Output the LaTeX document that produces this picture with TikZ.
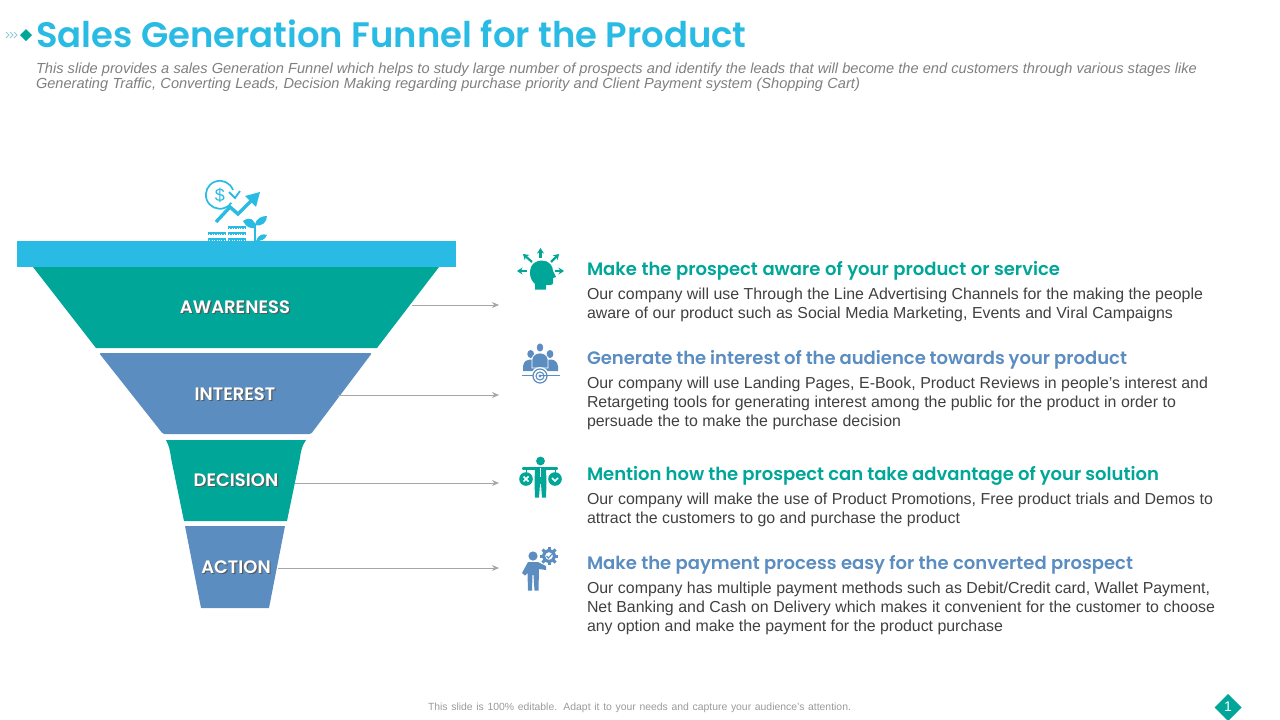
\documentclass[tikz,border=0pt]{standalone}
\usepackage{fontspec}
\setmainfont{Liberation Sans}
\newfontfamily\gothic{Poppins}[UprightFont=* SemiBold]
\usetikzlibrary{arrows.meta}
\definecolor{cyanT}{HTML}{29BBE3}
\definecolor{tealT}{HTML}{00A698}
\definecolor{blueT}{HTML}{5B8DC1}
\definecolor{bodyT}{HTML}{404040}
\definecolor{introT}{HTML}{7F7F7F}
\definecolor{footT}{HTML}{9A9A9A}
\definecolor{lineT}{HTML}{A6A6A6}
\newcommand{\jl}[2]{\hbox to #1pt{#2}}
\newcommand{\shadowed}[1]{\rlap{\kern1.2pt\raisebox{-1.2pt}{\color{black!65}#1}}#1}
\tikzset{
  body/.style={anchor=north west,inner sep=0pt,outer sep=0pt,align=left,text=bodyT,font=\fontsize{15.9}{19}\selectfont},
  intro/.style={anchor=north west,inner sep=0pt,outer sep=0pt,align=left,text=introT,font=\fontsize{14.6}{15}\selectfont\itshape},
  heading/.style={anchor=west,inner sep=0pt,outer sep=0pt,font=\gothic\fontsize{18}{20}\selectfont},
  stage/.style={inner sep=0pt,outer sep=0pt,text=white,font=\gothic\fontsize{18}{20}\selectfont},
  link/.style={draw=lineT,line width=0.8pt,-{Stealth[length=7pt,width=6pt]}},
  burst/.style={line width=2.2pt,-{Stealth[length=5.5pt,width=7pt]}},
}
\begin{document}
\begin{tikzpicture}[x=1pt,y=-1pt]
\useasboundingbox (0,0) rectangle (1280,720);
% title area
\node[anchor=west,inner sep=0pt,text=cyanT,font=\gothic\fontsize{35.4}{38}\selectfont] (title) at (36,34) {Sales Generation Funnel for the Product};
\node[intro] (introtext) at (36,63) {\jl{1161}{This slide provides a sales Generation Funnel which helps to study large number of prospects and identify the leads that will become the end customers through various stages like}\\\jl{824}{Generating Traffic, Converting Leads, Decision Making regarding purchase priority and Client Payment system (Shopping Cart)}};
\draw[cyanT!60!gray!60,line width=0.8pt] (6,32)--(9,35)--(6,38) (10,32)--(13,35)--(10,38) (14,32)--(17,35)--(14,38);
\fill[tealT] (26,29)--(32,35)--(26,41)--(20,35)--cycle;
% funnel
\fill[cyanT] (17,241) rectangle (456,267);
\fill[tealT] (33,267)--(439,267)--(377,348)--(96,348)--cycle;
\fill[blueT,rounded corners=1.5pt] (99,353)--(372,353)--(311,434)--(163,434)--cycle;
\fill[tealT] (166,440)--(306,440) .. controls (302,446) and (301,450) .. (300,458) -- (287,521)--(184,521)--(171,458) .. controls (170,450) and (169,446) .. (166,440)--cycle;
\fill[blueT] (185,526)--(285,526)--(269,608)--(201,608)--cycle;
\node[stage] (awareness) at (235,308) {\shadowed{AWARENESS}};
\node[stage] (interest) at (235,395) {\shadowed{INTEREST}};
\node[stage] (decision) at (236,481) {\shadowed{DECISION}};
\node[stage] (action) at (236,568) {\shadowed{ACTION}};
% connectors
\coordinate (a1) at (412,305); \coordinate (a2) at (499,305);
\coordinate (b1) at (338,395); \coordinate (b2) at (499,395);
\coordinate (c1) at (295,483); \coordinate (c2) at (499,483);
\coordinate (d1) at (278,568); \coordinate (d2) at (499,568);
\draw[link] (a1)--(a2);
\draw[link] (b1)--(b2);
\draw[link] (c1)--(c2);
\draw[link] (d1)--(d2);
% top icon
\begin{scope}[cyanT]
\draw[line width=1.7pt] (233,190) arc (-20:-325:14);
\draw[line width=1.8pt] (229,192)--(235,198)--(240,191);
\node[inner sep=0pt,text=cyanT,font=\fontsize{18}{18}\selectfont] (dollar) at (220,195.5) {\$};
\draw[line width=3.4pt] (216,222)--(230,207)--(238,214)--(253,199);
\fill (260,192)--(256,207)--(245,196)--cycle;
\fill (243,221) .. controls (250,216) and (255,219) .. (256,228) .. controls (250,229) and (246,227) .. (243,221)--cycle;
\fill (255,225) .. controls (256,218) and (262,216) .. (267,216) .. controls (267,222) and (262,227) .. (255,225)--cycle;
\fill (256,241) .. controls (258,235) and (263,233) .. (267,235) .. controls (265,240) and (261,241) .. (256,241)--cycle;
\draw[line width=2.4pt] (255,224)--(255,241);
\foreach \yy in {232,238} {
  \fill (208,\yy) rectangle (226,\yy+1.6);
  \draw[line width=1.6pt,dash pattern=on 1.4pt off 1pt] (208,\yy+2.2)--(226,\yy+2.2);
}
\foreach \yy in {226,232,238} {
  \fill (228,\yy) rectangle (246,\yy+1.6);
  \draw[line width=1.6pt,dash pattern=on 1.4pt off 1pt] (228,\yy+2.2)--(246,\yy+2.2);
}
\end{scope}
% icon 1: head with arrows
\begin{scope}[tealT]
\fill (530,273) .. controls (530,263) and (537,260.5) .. (542,260.5) .. controls (549,260.5) and (553,266) .. (553,271) -- (556,277) -- (553,278) -- (553,283) .. controls (553,285) and (550,285) .. (546,285) -- (546,289.5) -- (535,289.5) -- (535,284) .. controls (532,281) and (530,278) .. (530,273) -- cycle;
\draw[burst] (527,271)--(517,271);
\draw[burst] (532,262)--(523,254);
\draw[burst] (540.5,258)--(540.5,248);
\draw[burst] (551,262)--(559,254);
\draw[burst] (555,271)--(564,271);
\end{scope}
% icon 2: people and target
\begin{scope}[blueT]
\fill (530.7,354) ellipse (3.4 and 4) ; \fill (550,354) ellipse (3.4 and 4);
\fill (523,371) -- (523,366) .. controls (524,361) and (527,359.5) .. (530,359.5) .. controls (534,359.5) and (537,361) .. (538,366) -- (538,371) -- cycle;
\fill (543,371) -- (543,366) .. controls (544,361) and (547,359.5) .. (550,359.5) .. controls (554,359.5) and (557,361) .. (558,366) -- (558,371) -- cycle;
\fill[draw=white,line width=0.8pt] (540,347.5) ellipse (3.8 and 4.6);
\fill[draw=white,line width=0.8pt] (532,368) -- (532,359) .. controls (532.5,355) and (536,353) .. (540,353) .. controls (544,353) and (547.5,355) .. (548,359) -- (548,368) -- cycle;
\fill[white] (540,376) circle (9);
\draw[line width=1.2pt] (540,376) circle (7);
\draw[line width=1.1pt] (540,376) circle (4);
\fill (540,376) circle (1.6);
\draw[line width=1.2pt] (522,375.5)--(533,375.5) (540,375.5)--(560,375.5);
\end{scope}
% icon 3: balance person
\begin{scope}[tealT]
\fill (540.5,461) circle (4.4);
\draw[line width=2.2pt,line cap=round] (523,468.5)--(557,468.5);
\draw[line width=0.9pt] (526,468)--(526,474) (555,468)--(555,474);
\fill (535,468)--(546,468)--(546.5,483)--(546,497.5)--(542,497.5)--(541,484)--(540,484)--(539,497.5)--(535,497.5)--(534.5,483)--cycle;
\fill (526,479) circle (6.8);
\fill (555,479) circle (6.8);
\draw[white,line width=1.6pt] (523.5,476.5)--(528.5,481.5) (528.5,476.5)--(523.5,481.5);
\draw[white,line width=1.6pt] (552,478)--(555,481)--(558,478);
\draw[white,line width=0.8pt] (540.5,468)--(540.5,477);
\end{scope}
% icon 4: person and gear
\begin{scope}[blueT]
\fill (533,556) circle (4.6);
\fill (528,562)--(538,562)--(546,566)--(546,570)--(539,569)--(538.5,590.5)--(534.5,590.5)--(533.5,575)--(532.5,575)--(532,590.5)--(528,590.5)--(527.5,573)--(525,575.5)--(522,573)--cycle;
\foreach \aa in {0,45,...,315} \draw[line width=3pt] (549,556)++(\aa:6)--++(\aa:3.2);
\draw[line width=3.2pt] (549,556) circle (5.6);
\draw[line width=1.1pt] (546.5,556)--(548.5,558)--(552,554);
\end{scope}
% right-hand texts
\node[heading,text=tealT] (h1) at (587,271) {\jl{473}{Make the prospect aware of your product or service}};
\node[body] (p1) at (587,288) {\jl{616}{Our company will use Through the Line Advertising Channels for the making the people}\\\jl{586}{aware of our product such as Social Media Marketing, Events and Viral Campaigns}};
\node[heading,text=blueT] (h2) at (587,360) {\jl{540}{Generate the interest of the audience towards your product}};
\node[body] (p2) at (587,377) {\jl{621}{Our company will use Landing Pages, E-Book, Product Reviews in people’s interest and}\\\jl{589}{Retargeting tools for generating interest among the public for the product in order to}\\\jl{314}{persuade the to make the purchase decision}};
\node[heading,text=tealT] (h3) at (587,476) {\jl{572}{Mention how the prospect can take advantage of your solution}};
\node[body] (p3) at (587,493) {\jl{626}{Our company will make the use of Product Promotions, Free product trials and Demos to}\\\jl{373}{attract the customers to go and purchase the product}};
\node[heading,text=blueT] (h4) at (587,565) {\jl{546}{Make the payment process easy for the converted prospect}};
\node[body] (p4) at (587,582) {\jl{623}{Our company has multiple payment methods such as Debit/Credit card, Wallet Payment,}\\\jl{628}{Net Banking and Cash on Delivery which makes it convenient for the customer to choose}\\\jl{416}{any option and make the payment for the product purchase}};
% footer
\node[inner sep=0pt,text=footT,font=\fontsize{10.4}{12}\selectfont] (foot) at (639.5,708) {\jl{423}{This slide is 100\% editable. Adapt it to your needs and capture your audience's attention.}};
\fill[tealT] (1228,694)--(1241.5,707.5)--(1228,721)--(1214.5,707.5)--cycle;
\node[inner sep=0pt,text=white,font=\fontsize{14}{14}\selectfont] (pageno) at (1228,707) {1};
\end{tikzpicture}
\end{document}
